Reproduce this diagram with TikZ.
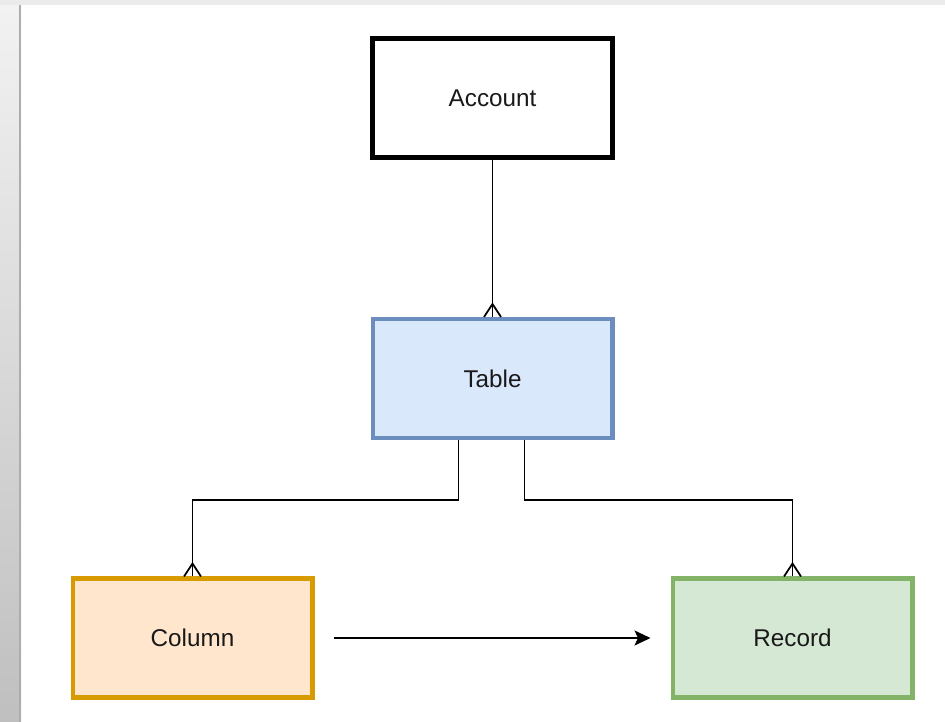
\documentclass[tikz,border=0pt]{standalone}
\usepackage{fontspec}
\setmainfont{Liberation Sans}
\usetikzlibrary{arrows.meta}
\definecolor{tblue}{HTML}{6C8EBF}
\definecolor{tbluefill}{HTML}{DAE8FC}
\definecolor{corange}{HTML}{D79B00}
\definecolor{corangefill}{HTML}{FFE6CC}
\definecolor{rgreen}{HTML}{82B366}
\definecolor{rgreenfill}{HTML}{D5E8D4}

% crow's foot end for the "many" side
\pgfdeclarearrow{
  name = Crow,
  parameters = {\the\pgfarrowlength,\the\pgfarrowwidth},
  setup code = {
    \pgfarrowssettipend{0pt}
    \pgfarrowssetlineend{0pt}
    \pgfarrowssetbackend{-\pgfarrowlength}
    \pgfarrowssetvisualbackend{-\pgfarrowlength}
    \pgfarrowssavethe\pgfarrowlength
    \pgfarrowssavethe\pgfarrowwidth
  },
  drawing code = {
    \pgfpathmoveto{\pgfpoint{0pt}{.5\pgfarrowwidth}}
    \pgfpathlineto{\pgfpoint{-\pgfarrowlength}{0pt}}
    \pgfpathlineto{\pgfpoint{0pt}{-.5\pgfarrowwidth}}
    \pgfusepathqstroke
  },
  defaults = {length=3mm, width=3mm}
}

\begin{document}
\begin{tikzpicture}[x=0.02cm, y=-0.02cm,
    entity/.style={rectangle, draw, minimum width=4.8cm, minimum height=2.38cm,
      line width=2.3pt, font=\fontsize{13.8}{16}\selectfont, text=black!90},
    link/.style={line width=1pt},
    many/.style={link, -{Crow[length=0.26cm, width=0.34cm, line width=0.9pt]}}]
    \useasboundingbox (0,0) rectangle (945,722);
    % grey window edge
    \shade[top color=black!5, bottom color=black!25] (0,0) rectangle (21,722);
    \fill[black!32] (19,5) rectangle (21,722);
    \fill[black!8] (0,0) rectangle (945,5);

    \node[entity, line width=2.9pt]               (Account) at (492.5, 98)  {Account};
    \node[entity, draw=tblue, fill=tbluefill]     (Table)   at (492.5, 378.5) {Table};
    \node[entity, draw=corange, fill=corangefill] (Column)  at (192.5, 638) {Column};
    \node[entity, draw=rgreen, fill=rgreenfill]   (Record)  at (792.5, 638) {Record};

    \draw[many] (Account.south) -- (Table.north);
    \draw[many] ([xshift=-0.68cm]Table.south) -- ++(0,60) -| (Column.north);
    \draw[many] ([xshift=0.64cm]Table.south) -- ++(0,60) -| (Record.north);
    \draw[link, -{Stealth[length=0.32cm, width=0.3cm, inset=0.07cm]}]
        ([xshift=0.4cm]Column.east) -- ([xshift=-0.4cm]Record.west);
\end{tikzpicture}
\end{document}
